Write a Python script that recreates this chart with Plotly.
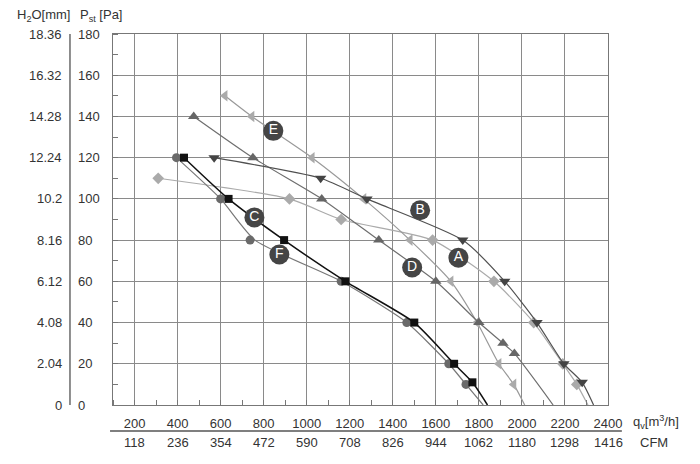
import plotly.graph_objects as go

# curve data, qv [m3/h] vs Pst [Pa]
a_x = [310, 920, 1160, 1585, 1870, 2055, 2190, 2255, 2307]
a_y = [110, 100, 90, 80, 60, 40, 20, 10, 0]
b_x = [570, 1065, 1280, 1725, 1920, 2070, 2195, 2280, 2333]
b_y = [120, 110, 100, 80, 60, 40, 20, 11, 0]
c_x = [430, 637, 895, 1180, 1500, 1685, 1770, 1840]
c_y = [120, 100, 80, 60, 40, 20, 11, 0]
d_x = [475, 750, 1070, 1335, 1600, 1800, 1912, 1965, 2145]
d_y = [140, 120, 100, 80, 60, 40, 30, 25, 0]
e_x = [620, 745, 1025, 1265, 1480, 1670, 1792, 1893, 1962, 2013]
e_y = [150, 140, 120, 100, 80, 60, 40, 20, 10, 0]
f_x = [395, 600, 760, 1160, 1465, 1660, 1740, 1820]
f_y = [120, 100, 80, 60, 40, 20, 10, 0]
# measured points (F has one point off its curve)
f_pts_x = [395, 600, 737, 1160, 1465, 1660, 1740]
f_pts_y = [120, 100, 80, 60, 40, 20, 10]

label_txt = ["A", "B", "C", "D", "E", "F"]
label_x = [1705, 1527, 757, 1490, 845, 873]
label_y = [71.5, 94.5, 91, 66.7, 133, 73]

qv_ticks = [200, 400, 600, 800, 1000, 1200, 1400, 1600, 1800, 2000, 2200, 2400]
cfm_ticks = ["118", "236", "354", "472", "590", "708", "826", "944", "1062", "1180", "1298", "1416"]
pa_ticks = [0, 20, 40, 60, 80, 100, 120, 140, 160, 180]
mm_ticks = ["0", "2.04", "4.08", "6.12", "8.16", "10.2", "12.24", "14.28", "16.32", "18.36"]

FONT = "Liberation Sans, Arial, sans-serif"
TXT = "#333"

fig = go.Figure()

def curve(x, y, color, width, sym, mcolor, msize, px=None, py=None):
    fig.add_trace(go.Scatter(x=x, y=y, mode="lines",
                             line=dict(color=color, width=width, shape="spline", smoothing=0.6),
                             hoverinfo="skip"))
    fig.add_trace(go.Scatter(x=px if px is not None else x[:-1],
                             y=py if py is not None else y[:-1],
                             mode="markers",
                             marker=dict(symbol=sym, color=mcolor, size=msize)))

curve(a_x, a_y, "#aaaaaa", 1.2, "diamond", "#aaaaaa", 9)
curve(e_x, e_y, "#999999", 1.2, "triangle-left", "#aaaaaa", 10)
curve(d_x, d_y, "#6e6e6e", 1.2, "triangle-up", "#666666", 10)
curve(b_x, b_y, "#505050", 1.2, "triangle-down", "#444444", 10)
curve(f_x, f_y, "#777777", 1.2, "circle", "#6a6a6a", 9, f_pts_x, f_pts_y)
curve(c_x, c_y, "#111111", 1.5, "square", "#111111", 8)

fig.add_trace(go.Scatter(x=label_x, y=label_y, mode="markers+text", text=label_txt,
                         textposition="middle center",
                         textfont=dict(color="white", size=14, family=FONT),
                         marker=dict(size=20, color="#454545")))

# left tick columns
for v, mm in zip(pa_ticks, mm_ticks):
    fig.add_annotation(x=-0.099, y=v, xref="paper", yref="y", text=mm, showarrow=False,
                       xanchor="right", yanchor="middle", font=dict(size=13, color=TXT, family=FONT))
    fig.add_annotation(x=-0.0747, y=v, xref="paper", yref="y", text=str(v), showarrow=False,
                       xanchor="left", yanchor="middle", font=dict(size=13, color=TXT, family=FONT))

# CFM row
for q, c in zip(qv_ticks, cfm_ticks):
    fig.add_annotation(x=q, y=-0.1024, xref="x", yref="paper", text=c, showarrow=False,
                       xanchor="center", yanchor="middle", font=dict(size=13, color=TXT, family=FONT))

fig.add_annotation(x=-0.0828, y=1.051, xref="paper", yref="paper", text="H<sub>2</sub>O[mm]",
                   showarrow=False, xanchor="right", yanchor="middle",
                   font=dict(size=13, color=TXT, family=FONT))
fig.add_annotation(x=-0.0707, y=1.051, xref="paper", yref="paper", text="P<sub>st</sub> [Pa]",
                   showarrow=False, xanchor="left", yanchor="middle",
                   font=dict(size=13, color=TXT, family=FONT))
fig.add_annotation(x=1.046, y=-0.0458, xref="paper", yref="paper", text="q<sub>v</sub>[m<sup>3</sup>/h]",
                   showarrow=False, xanchor="left", yanchor="middle",
                   font=dict(size=13, color=TXT, family=FONT))
fig.add_annotation(x=1.061, y=-0.1024, xref="paper", yref="paper", text="CFM",
                   showarrow=False, xanchor="left", yanchor="middle",
                   font=dict(size=13, color=TXT, family=FONT))

fig.add_shape(type="line", xref="paper", yref="y", x0=-0.0869, x1=-0.0869, y0=-3, y1=182,
              line=dict(color="#444", width=1.2))
fig.add_shape(type="line", xref="paper", yref="paper", x0=-0.006, x1=1.028, y0=-0.070, y1=-0.070,
              line=dict(color="#555", width=1.5))

# page body has an 8px margin, so margins are shifted to compensate
fig.update_layout(
    width=700, height=464,
    margin=dict(l=105, r=100, t=26, b=67),
    plot_bgcolor="white", paper_bgcolor="white",
    showlegend=False,
    font=dict(family=FONT, size=13, color=TXT),
    xaxis=dict(range=[100, 2400], tickvals=qv_ticks, ticks="", showgrid=True,
               gridcolor="#8a8a8a", gridwidth=1, showline=True, linecolor="#777", mirror=True,
               zeroline=False, ticklabelstandoff=6, tickfont=dict(size=13, color=TXT),
               minor=dict(dtick=100, tick0=100, ticks="inside", ticklen=5, tickcolor="#777",
                          showgrid=False)),
    yaxis=dict(range=[0, 180], tickvals=pa_ticks, showticklabels=False, ticks="", showgrid=True,
               gridcolor="#8a8a8a", gridwidth=1, showline=True, linecolor="#777", mirror=True,
               zeroline=False,
               minor=dict(dtick=10, tick0=0, ticks="inside", ticklen=5, tickcolor="#777",
                          showgrid=False)),
)

fig.write_html("out.html")
